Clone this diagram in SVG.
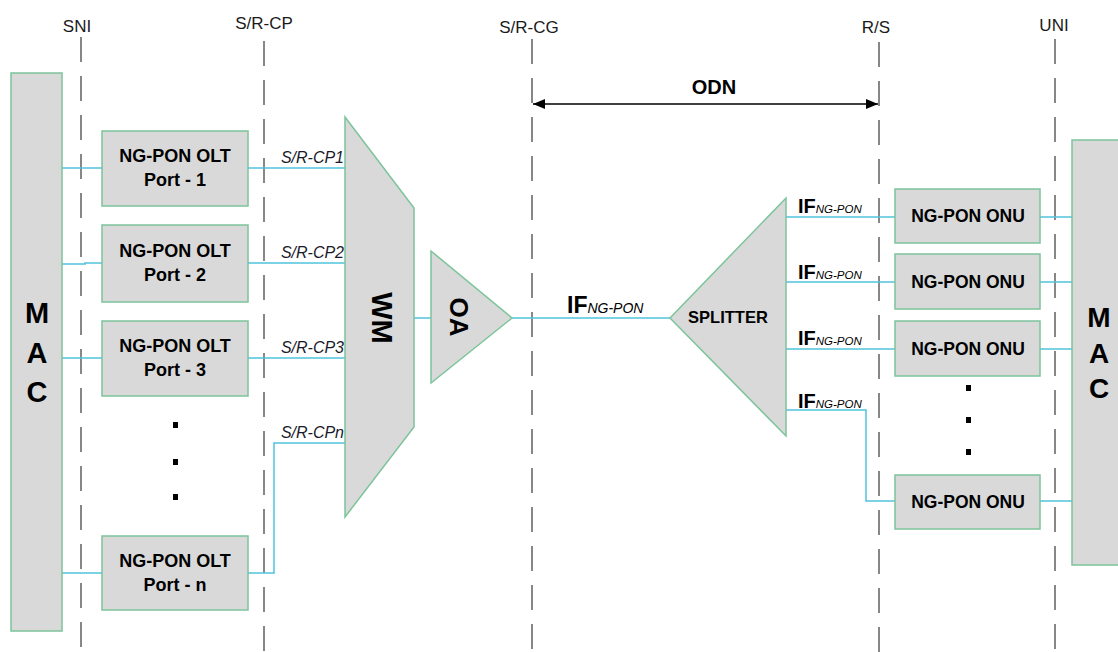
<svg xmlns="http://www.w3.org/2000/svg" width="1118" height="652" viewBox="0 0 1118 652">
<style>
.bg{fill:#ffffff}
.box{fill:#d9d9d9;stroke:#7cc49a;stroke-width:1.5}
.dash{stroke:#6a6a6a;stroke-width:1.6;stroke-dasharray:25 14;fill:none}
.wire{stroke:#4fc3dc;stroke-width:1.5;fill:none}
.ref{font-family:"Liberation Sans",Arial,sans-serif;font-size:17px;fill:#1a1a1a;text-anchor:middle}
.bt{font-family:"Liberation Sans",Arial,sans-serif;font-weight:bold;fill:#000;text-anchor:middle}
.cp{font-family:"Liberation Sans",Arial,sans-serif;font-style:italic;font-size:16px;fill:#1a1a2a;text-anchor:end}
.ifb{font-family:"Liberation Sans",Arial,sans-serif;font-weight:bold;fill:#000}
.ifs{font-family:"Liberation Sans",Arial,sans-serif;font-style:italic;font-weight:normal}
.dot{fill:#000}
</style>
<defs>
<marker id="ah" viewBox="0 0 12 10" refX="12" refY="5" markerWidth="12" markerHeight="10" markerUnits="userSpaceOnUse" orient="auto-start-reverse">
<path d="M0,0 L12,5 L0,10 Z" fill="#000"/>
</marker>
</defs>
<rect class="bg" x="0" y="0" width="1118" height="652"/>

<g id="reference-lines">
<line class="dash" x1="81" y1="37" x2="81" y2="652"/>
<line class="dash" x1="264" y1="41" x2="264" y2="652"/>
<line class="dash" x1="532" y1="39" x2="532" y2="652"/>
<line class="dash" x1="879" y1="42" x2="879" y2="652"/>
<line class="dash" x1="1055" y1="39" x2="1055" y2="652"/>
<text class="ref" x="77" y="32">SNI</text>
<text class="ref" x="264" y="29">S/R-CP</text>
<text class="ref" x="529" y="33">S/R-CG</text>
<text class="ref" x="876" y="33">R/S</text>
<text class="ref" x="1054" y="31">UNI</text>
</g>

<g id="connectors">
<path class="wire" d="M61,168 H102"/>
<path class="wire" d="M61,264 H85 V263 H102"/>
<path class="wire" d="M61,358 H102"/>
<path class="wire" d="M61,573 H102"/>
<path class="wire" d="M248,168 H345"/>
<path class="wire" d="M248,263 H345"/>
<path class="wire" d="M248,358 H345"/>
<path class="wire" d="M248,573 H274 V443 H345"/>
<path class="wire" d="M414,318 H431"/>
<path class="wire" d="M512,318 H670"/>
<path class="wire" d="M786,217 H895"/>
<path class="wire" d="M786,282 H895"/>
<path class="wire" d="M786,349 H895"/>
<path class="wire" d="M786,410 H866 V501 H895"/>
<path class="wire" d="M1040,217 H1072"/>
<path class="wire" d="M1040,282 H1072"/>
<path class="wire" d="M1040,349 H1072"/>
<path class="wire" d="M1040,501 H1072"/>
<line x1="533" y1="104" x2="878" y2="104" stroke="#000" stroke-width="1.5" marker-start="url(#ah)" marker-end="url(#ah)"/>
<text class="bt" x="714" y="94" font-size="20">ODN</text>
<text class="cp" x="344" y="163">S/R-CP1</text>
<text class="cp" x="344" y="258">S/R-CP2</text>
<text class="cp" x="344" y="353">S/R-CP3</text>
<text class="cp" x="344" y="438">S/R-CPn</text>
<text class="ifb" x="567" y="313" font-size="23">IF<tspan class="ifs" font-size="14">NG-PON</tspan></text>
<text class="ifb" x="798" y="213" font-size="20">IF<tspan class="ifs" font-size="11.5">NG-PON</tspan></text>
<text class="ifb" x="798" y="279" font-size="20">IF<tspan class="ifs" font-size="11.5">NG-PON</tspan></text>
<text class="ifb" x="798" y="345" font-size="20">IF<tspan class="ifs" font-size="11.5">NG-PON</tspan></text>
<text class="ifb" x="798" y="408" font-size="20">IF<tspan class="ifs" font-size="11.5">NG-PON</tspan></text>
</g>

<g id="mac-left">
<rect class="box" x="11" y="73" width="51" height="558"/>
<text class="bt" x="37" y="323" font-size="29">M</text>
<text class="bt" x="37" y="363" font-size="29">A</text>
<text class="bt" x="37" y="402" font-size="29">C</text>
</g>

<g id="olt-1">
<rect class="box" x="102" y="131" width="146" height="75"/>
<text class="bt" x="175" y="162" font-size="18">NG-PON OLT</text>
<text class="bt" x="175" y="186" font-size="18">Port - 1</text>
</g>
<g id="olt-2">
<rect class="box" x="102" y="225" width="146" height="77"/>
<text class="bt" x="175" y="257" font-size="18">NG-PON OLT</text>
<text class="bt" x="175" y="281" font-size="18">Port - 2</text>
</g>
<g id="olt-3">
<rect class="box" x="102" y="321" width="146" height="75"/>
<text class="bt" x="175" y="352" font-size="18">NG-PON OLT</text>
<text class="bt" x="175" y="376" font-size="18">Port - 3</text>
</g>
<g id="olt-dots">
<rect class="dot" x="173" y="422" width="5" height="6"/>
<rect class="dot" x="173" y="459" width="5" height="6"/>
<rect class="dot" x="173" y="494" width="5" height="6"/>
</g>
<g id="olt-n">
<rect class="box" x="102" y="536" width="146" height="74"/>
<text class="bt" x="175" y="567" font-size="18">NG-PON OLT</text>
<text class="bt" x="175" y="591" font-size="18">Port - n</text>
</g>

<g id="wm">
<polygon class="box" points="345,117 414,208 414,427 345,517"/>
<text class="bt" font-size="29" transform="translate(372,318) rotate(90)">WM</text>
</g>
<g id="oa">
<polygon class="box" points="431,251 512,318 431,383"/>
<text class="bt" font-size="26" transform="translate(450,317) rotate(90)">OA</text>
</g>

<g id="splitter">
<polygon class="box" points="670,318 786,198 786,436"/>
<text class="bt" x="728" y="323" font-size="16.5">SPLITTER</text>
</g>

<g id="onu-1">
<rect class="box" x="895" y="189" width="145" height="54"/>
<text class="bt" x="968" y="222" font-size="17.5">NG-PON ONU</text>
</g>
<g id="onu-2">
<rect class="box" x="895" y="254" width="145" height="55"/>
<text class="bt" x="968" y="288" font-size="17.5">NG-PON ONU</text>
</g>
<g id="onu-3">
<rect class="box" x="895" y="321" width="145" height="55"/>
<text class="bt" x="968" y="355" font-size="17.5">NG-PON ONU</text>
</g>
<g id="onu-dots">
<rect class="dot" x="966" y="385" width="5" height="6"/>
<rect class="dot" x="966" y="417" width="5" height="6"/>
<rect class="dot" x="966" y="449" width="5" height="6"/>
</g>
<g id="onu-n">
<rect class="box" x="895" y="475" width="145" height="54"/>
<text class="bt" x="968" y="508" font-size="17.5">NG-PON ONU</text>
</g>

<g id="mac-right">
<rect class="box" x="1072" y="140" width="60" height="425"/>
<text class="bt" x="1099" y="327" font-size="28">M</text>
<text class="bt" x="1099" y="363" font-size="28">A</text>
<text class="bt" x="1099" y="398" font-size="28">C</text>
</g>
</svg>
